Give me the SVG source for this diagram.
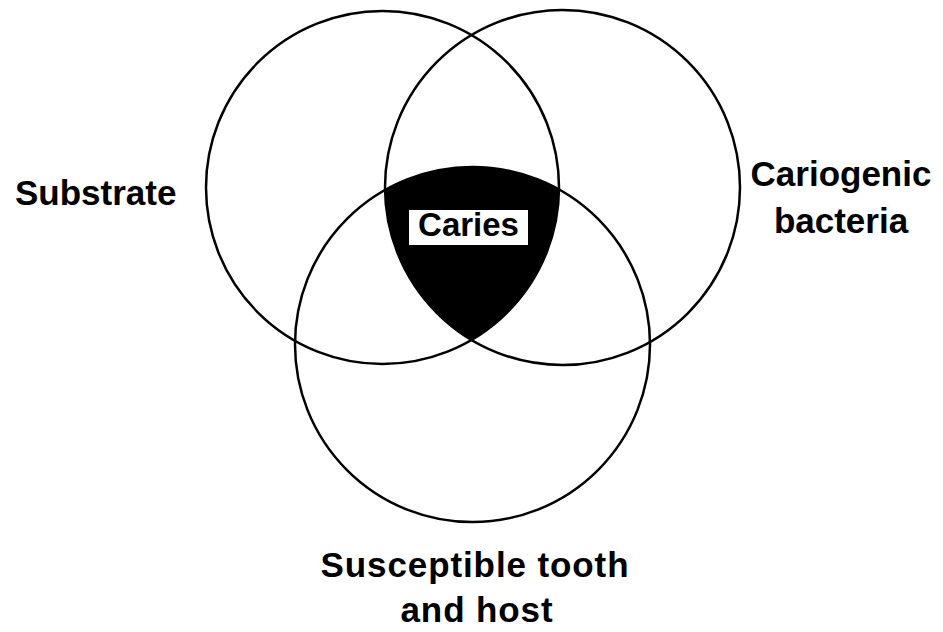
<svg xmlns="http://www.w3.org/2000/svg" width="943" height="632" viewBox="0 0 943 632">
<style>
.ring{fill:none;stroke:#000;stroke-width:2.5}
.lbl{font-family:"Liberation Sans",Arial,sans-serif;font-weight:bold;font-size:35px;fill:#000}
.wide{letter-spacing:0.9px}
</style>
<rect width="943" height="632" fill="#fff"/>
<g id="caries">
<path d="M385.0,190.1 A177.5,177.5 0 0 1 559.0,189.5 A176.5,176.5 0 0 1 471.5,339.9 A177.5,177.5 0 0 1 385.0,190.1 Z" fill="#000"/>
<rect x="409" y="210" width="119" height="35" fill="#fff"/>
<text class="lbl" x="468.5" y="236" text-anchor="middle" style="font-size:33px">Caries</text>
</g>
<g id="substrate">
<circle class="ring" cx="382.5" cy="187.5" r="176.5"/>
<text class="lbl" x="15" y="205">Substrate</text>
</g>
<g id="bacteria">
<circle class="ring" cx="562.5" cy="187.5" r="177.5"/>
<text class="lbl" x="841" y="186" text-anchor="middle">Cariogenic</text>
<text class="lbl" x="841" y="233" text-anchor="middle">bacteria</text>
</g>
<g id="host">
<circle class="ring" cx="472.5" cy="344.5" r="177.5"/>
<text class="lbl wide" x="475" y="577" text-anchor="middle">Susceptible tooth</text>
<text class="lbl wide" x="477" y="622" text-anchor="middle">and host</text>
</g>
</svg>
